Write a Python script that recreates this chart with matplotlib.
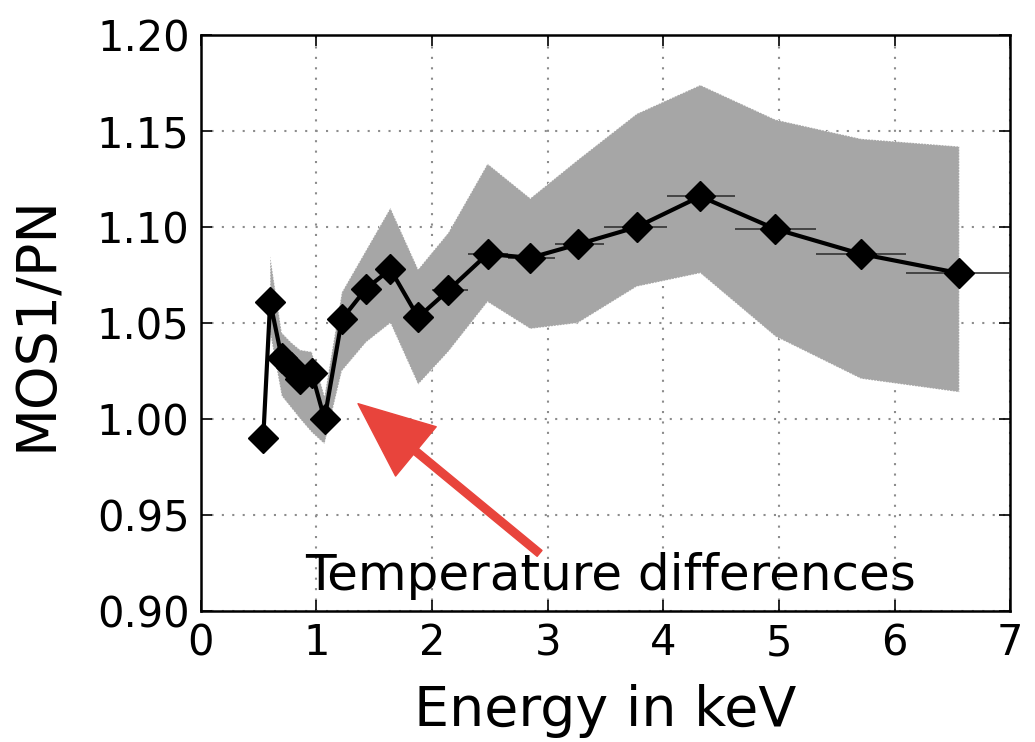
import matplotlib
matplotlib.use('Agg')
from matplotlib import pyplot as plt

# measured ratio points
energy = [0.54, 0.60, 0.70, 0.78, 0.86, 0.96, 1.07, 1.22, 1.43, 1.64,
          1.88, 2.14, 2.48, 2.85, 3.26, 3.77, 4.32, 4.97, 5.71, 6.56]
ratio = [0.990, 1.061, 1.032, 1.027, 1.021, 1.024, 1.000, 1.052, 1.068, 1.078,
         1.053, 1.067, 1.086, 1.084, 1.091, 1.100, 1.116, 1.099, 1.086, 1.076]
# energy bin edges (horizontal error bars)
bin_lo = [0.51, 0.57, 0.65, 0.74, 0.82, 0.91, 1.02, 1.15, 1.33, 1.54,
          1.76, 2.00, 2.31, 2.66, 3.06, 3.49, 4.03, 4.62, 5.32, 6.10]
bin_hi = [0.57, 0.65, 0.74, 0.82, 0.91, 1.02, 1.15, 1.33, 1.54, 1.76,
          2.00, 2.31, 2.66, 3.06, 3.49, 4.03, 4.62, 5.32, 6.10, 7.00]

# temperature spread band
band_x = [0.60, 0.70, 0.78, 0.86, 0.96, 1.07, 1.22, 1.43, 1.64, 1.88,
          2.14, 2.48, 2.85, 3.26, 3.77, 4.32, 4.97, 5.71, 6.56]
band_hi = [1.085, 1.045, 1.040, 1.036, 1.035, 1.012, 1.066, 1.088, 1.110, 1.078,
           1.097, 1.133, 1.115, 1.135, 1.159, 1.174, 1.156, 1.146, 1.142]
band_lo = [1.045, 1.012, 1.006, 1.000, 0.993, 0.987, 1.025, 1.040, 1.050, 1.018,
           1.035, 1.061, 1.047, 1.050, 1.069, 1.076, 1.043, 1.021, 1.014]

xerr = [[e - l for e, l in zip(energy, bin_lo)],
        [h - e for e, h in zip(energy, bin_hi)]]

fig = plt.figure(figsize=(10.35, 7.42), dpi=100)
ax = fig.add_axes([0.194, 0.1766, 0.782, 0.776])

ax.grid(True, color='0.55', linestyle=(0, (1, 4)), linewidth=1.5)
ax.set_axisbelow(True)

ax.fill_between(band_x, band_lo, band_hi, color='#a6a6a6', edgecolor='white',
                linestyle=':', linewidth=0.8, zorder=2)
ax.errorbar(energy, ratio, xerr=xerr, fmt='none', ecolor='#333333',
            elinewidth=1.2, capsize=0, zorder=3)
ax.plot(energy, ratio, color='black', linewidth=3, marker='D',
        markersize=15, markerfacecolor='black', markeredgecolor='black', zorder=4)

ax.annotate('', xy=(1.36, 1.008), xytext=(2.93, 0.930),
            arrowprops=dict(facecolor='#e8443c', edgecolor='#e8443c',
                            width=5.5, headwidth=46, headlength=54, shrink=0.0),
            zorder=5)
ax.text(0.90, 0.911, 'Temperature differences', fontsize=36, va='baseline',
        ha='left', zorder=6)

ax.set_xlim(0, 7)
ax.set_ylim(0.90, 1.20)
ax.set_xticks(range(0, 8))
ax.set_yticks([0.90, 0.95, 1.00, 1.05, 1.10, 1.15, 1.20])
ax.set_yticklabels(['0.90', '0.95', '1.00', '1.05', '1.10', '1.15', '1.20'])
ax.tick_params(direction='in', top=True, right=True, length=8, width=1.2,
               labelsize=30, pad=8)
for s in ax.spines.values():
    s.set_linewidth(1.8)

ax.set_xlabel('Energy in keV', fontsize=40, labelpad=14)
ax.set_ylabel('MOS1/PN', fontsize=40, labelpad=24)

fig.savefig('out.png', dpi=100)
